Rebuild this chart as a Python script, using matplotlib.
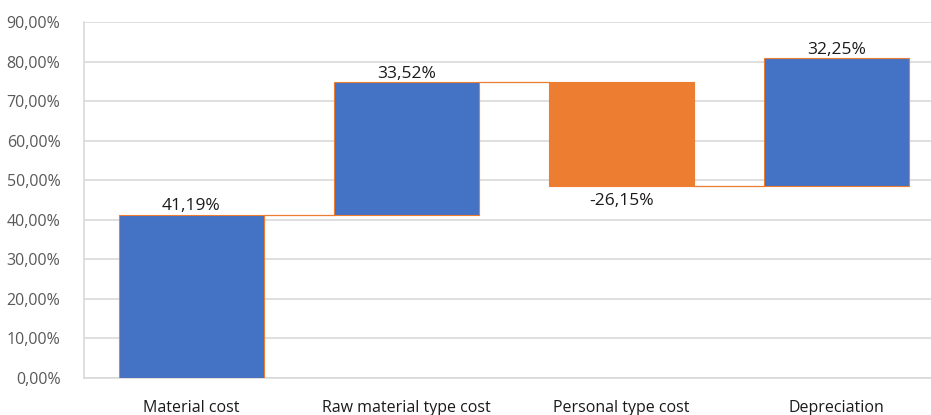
import matplotlib.pyplot as plt
import numpy as np

# waterfall data (percent)
categories = ['Material cost', 'Raw material type cost', 'Personal type cost', 'Depreciation']
changes = [41.19, 33.52, -26.15, 32.25]
yticks = [0, 10, 20, 30, 40, 50, 60, 70, 80, 90]

BLUE = '#4472C4'
ORANGE = '#ED7D31'
plt.rcParams['font.family'] = ['Open Sans', 'DejaVu Sans']

fig = plt.figure(figsize=(9.31, 4.15), dpi=100)
ax = fig.add_axes([84 / 931, 37 / 415, 860 / 931, 356 / 415])

x = np.arange(len(categories))
ends = np.cumsum(changes)
starts = ends - np.array(changes)
bottoms = np.minimum(starts, ends)
heights = np.abs(changes)
colors = [BLUE if c >= 0 else ORANGE for c in changes]

ax.bar(x, heights, bottom=bottoms, width=0.67, color=colors,
       edgecolor=ORANGE, linewidth=0.8, zorder=3)

# connectors
for i in range(len(x) - 1):
    ax.plot([x[i] + 0.335, x[i + 1] - 0.335], [ends[i], ends[i]],
            color=ORANGE, lw=0.9, zorder=3)

# data labels
for i, c in enumerate(changes):
    txt = f'{c:.2f}%'.replace('.', ',')
    if c >= 0:
        ax.text(x[i], ends[i] + 0.2, txt, ha='center', va='bottom', fontsize=12.5, color='#1a1a1a')
    else:
        ax.text(x[i], ends[i] - 1.8, txt, ha='center', va='top', fontsize=12.5, color='#1a1a1a')

ax.set_xlim(-0.5, 3.5)
ax.set_ylim(0, 90)
ax.set_yticks(yticks)
ax.set_yticklabels([f'{v:.2f}%'.replace('.', ',') for v in yticks], fontsize=11.5, color='#595959')
ax.set_xticks(x)
ax.set_xticklabels(categories, fontsize=11.5, color='#1a1a1a')
ax.tick_params(axis='both', length=0)
ax.tick_params(axis='x', pad=16)
ax.tick_params(axis='y', pad=17)
ax.grid(axis='y', color='#D9D9D9', lw=1.2, zorder=0)
for s in ['top', 'right']:
    ax.spines[s].set_visible(False)
ax.spines['left'].set_color('#D9D9D9')
ax.spines['bottom'].set_color('#D9D9D9')
ax.spines['left'].set_linewidth(1.2)
ax.spines['bottom'].set_linewidth(1.2)

fig.savefig('out.png', dpi=100)
